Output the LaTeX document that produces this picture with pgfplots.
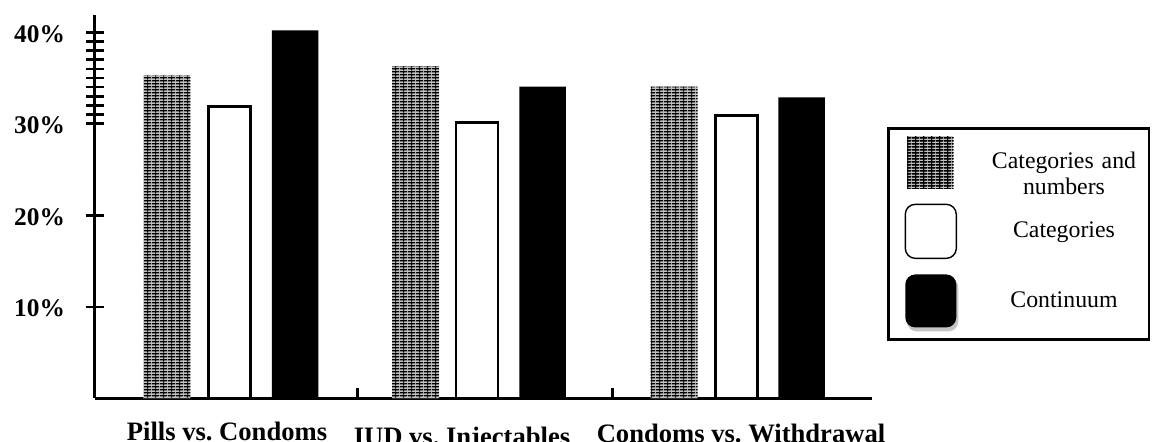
\documentclass[border=0pt]{standalone}
\usepackage{fontspec}
\setmainfont{Liberation Serif}
\usepackage{pgfplots}
\pgfplotsset{compat=1.18}
\usetikzlibrary{patterns.meta}

\tikzdeclarepattern{
  name=mygrid,
  type=uncolored,
  bounding box={(0pt,0pt) and (4pt,1.4pt)},
  tile size={(4pt,1.4pt)},
  code={
    \draw[line width=0.7pt] (0pt,0.7pt) -- (4pt,0.7pt);
    \draw[line width=0.6pt] (2pt,0pt) -- (2pt,1.4pt);
  }
}
\newcommand{\bbzero}{\pgfpathmoveto{\pgfqpoint{0pt}{0pt}}\pgfusepath{}}

\begin{document}
\begin{tikzpicture}
\path[use as bounding box] (-47.5pt,-21.35pt) rectangle (528.5pt,199.15pt);
\begin{axis}[
  at={(0pt,0pt)}, anchor=south west,
  scale only axis, width=388.5pt, height=191.7pt,
  xmin=95, xmax=872, ymin=0, ymax=41.9,
  axis lines=left,
  axis line style={-, line width=1.5pt},
  clip=false,
  ytick={10,20,30,40},
  yticklabels={10\%,20\%,30\%,40\%},
  minor ytick={31,...,39},
  tick align=center,
  major tick length=9pt, minor tick length=9pt,
  tick style={line width=1.3pt, black},
  yticklabel style={font=\fontsize{12.7}{15}\selectfont\bfseries, xshift=-7pt, yshift=-0.8pt},
  xtick={227,462,741},
  xticklabels={\rule{0pt}{10pt}Pills vs.\ Condoms,\rule{0pt}{12.5pt}IUD vs.\ Injectables,\rule{0pt}{11pt}Condoms vs.\ Withdrawal},
  xtick style={draw=none},
  xticklabel style={font=\fontsize{13.3}{16}\selectfont\bfseries, anchor=north, inner sep=0pt, yshift=-6.3pt},
  extra x ticks={357,612},
  extra x tick labels={},
  extra x tick style={tick align=inside, major tick length=5pt, xtick style={draw=black, line width=1.5pt}},
  legend style={at={(1.0193,0.7078)}, anchor=north west, draw=black, line width=1.3pt,
    inner xsep=5pt, inner ysep=4pt, row sep=7.7pt, column sep=15.35pt,
    nodes={inner sep=0pt, text width=75pt, align=center, font=\fontsize{11.9}{13}\selectfont}},
]
\addplot[ybar, bar width=47, bar shift=0pt, fill=gray!50, draw=none, postaction={pattern=mygrid},
  legend image code/.code={
    \bbzero
    \fill[gray!50] (4.5pt,-13pt) rectangle (27.5pt,13pt);
    \fill[pattern=mygrid] (4.5pt,-13pt) rectangle (27.5pt,13pt);}]
  coordinates {(167,35.3) (415.5,36.3) (674.2,34.05)};
\addlegendentry{Categories and\\numbers}
\addplot[ybar, bar width=42, bar shift=0pt, fill=white, draw=black, line width=1.4pt,
  legend image code/.code={
    \bbzero
    \draw[line width=0.7pt, rounded corners=5pt, fill=white] (3.5pt,-13.5pt) rectangle (29pt,13.5pt);}]
  coordinates {(229.5,31.9) (477,30.1) (736.2,30.9)};
\addlegendentry{Categories}
\addplot[ybar, bar width=46.5, bar shift=0pt, fill=black, draw=none,
  legend image code/.code={
    \bbzero
    \fill[gray!45, rounded corners=5pt] (4.3pt,-15pt) rectangle (30pt,12pt);
    \fill[black, rounded corners=5pt] (3.5pt,-13pt) rectangle (29pt,13.5pt);}]
  coordinates {(295,40.2) (542.5,34.05) (801.7,32.9)};
\addlegendentry{Continuum}
\end{axis}
\end{tikzpicture}
\end{document}
